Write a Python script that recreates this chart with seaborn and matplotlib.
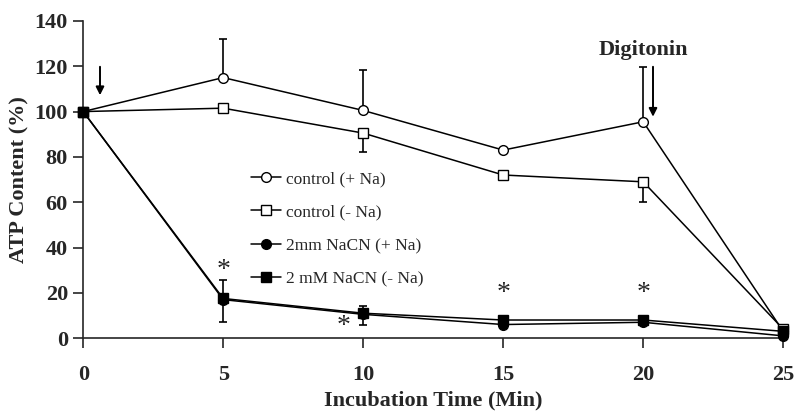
import numpy as np
import pandas as pd
import matplotlib
matplotlib.use("Agg")
import matplotlib.pyplot as plt
import seaborn as sns
from matplotlib.lines import Line2D

# ----------------------------------------------------------
# Data
# ----------------------------------------------------------
time = [0, 5, 10, 15, 20, 25]

control_na = [100, 115, 100.5, 83, 95.5, 3]
control_no_na = [100, 101.5, 90.5, 72, 69, 4]
nacn_na = [100, 17, 10.5, 6, 7, 1]
nacn_no_na = [100, 17.5, 11, 8, 8, 3]

# error bars (lower, upper) per point
control_na_err_lo = [0, 0, 0, 0, 0, 0]
control_na_err_hi = [0, 17, 18, 0, 24, 0]
control_no_na_err_lo = [0, 0, 8.5, 0, 9, 0]
control_no_na_err_hi = [0, 0, 0, 0, 0, 0]
nacn_no_na_err_lo = [0, 10.5, 5, 0, 0, 0]
nacn_no_na_err_hi = [0, 8, 3, 0, 0, 0]

labels = ["control (+ Na)", "control (- Na)", "2mm NaCN (+ Na)", "2 mM NaCN (- Na)"]

# asterisk positions
star_x = [5, 9.3, 15, 20]
star_y = [30, 5, 19.5, 19.5]

# ----------------------------------------------------------
# Plot
# ----------------------------------------------------------
sns.set_style("ticks")
plt.rcParams["font.family"] = ["Liberation Serif", "DejaVu Serif"]

fig = plt.figure(figsize=(8, 4.19), dpi=100)
ax = fig.add_axes([0.104, 0.193, 0.875, 0.757])

series = [
    (control_na, "o", "white", control_na_err_lo, control_na_err_hi),
    (control_no_na, "s", "white", control_no_na_err_lo, control_no_na_err_hi),
    (nacn_na, "o", "black", None, None),
    (nacn_no_na, "s", "black", nacn_no_na_err_lo, nacn_no_na_err_hi),
]

handles = []
for (vals, mk, fc, lo, hi), lab in zip(series, labels):
    df = pd.DataFrame({"time": time, "value": vals})
    if lo is not None:
        ax.errorbar(time, vals, yerr=[lo, hi], fmt="none", ecolor="black",
                    elinewidth=1.2, capsize=3, capthick=1.2, clip_on=False, zorder=2)
    sns.lineplot(data=df, x="time", y="value", ax=ax, color="black",
                 linewidth=1.1, marker=mk, markersize=7 if mk == "o" else 7.5,
                 markerfacecolor=fc, markeredgecolor="black",
                 markeredgewidth=1, clip_on=False, zorder=3)
    handles.append(Line2D([0], [0], color="black", linewidth=1.1, marker=mk,
                          markersize=7, markerfacecolor=fc,
                          markeredgecolor="black"))

for sx, sy in zip(star_x, star_y):
    ax.text(sx, sy, "*", ha="center", va="center", fontsize=20)

# arrows
ax.annotate("", xy=(0.6, 106), xytext=(0.6, 121),
            arrowprops=dict(arrowstyle="-|>", color="black", lw=1.4,
                            mutation_scale=12))
ax.annotate("", xy=(20.35, 96.5), xytext=(20.35, 121),
            arrowprops=dict(arrowstyle="-|>", color="black", lw=1.4,
                            mutation_scale=12))
ax.text(20, 127, "Digitonin", ha="center", va="center",
        fontsize=16, fontweight="bold")

ax.set_xlim(0, 25)
ax.set_ylim(0, 140)
ax.set_xticks([0, 5, 10, 15, 20, 25])
ax.set_yticks(range(0, 141, 20))
ax.tick_params(axis="x", direction="out", length=7, width=1.2, pad=12, labelsize=16)
ax.tick_params(axis="y", direction="out", length=7, width=1.2, pad=4, labelsize=16)
for t in ax.get_xticklabels() + ax.get_yticklabels():
    t.set_fontweight("bold")

ax.set_xlabel("Incubation Time (Min)", fontsize=16, fontweight="bold", labelpad=4)
ax.set_ylabel("ATP Content (%)", fontsize=16, fontweight="bold", labelpad=4)

sns.despine(ax=ax)
for sp in ax.spines.values():
    sp.set_linewidth(1.2)

ax.legend(handles, labels, loc="upper left", bbox_to_anchor=(0.218, 0.577),
          frameon=False, fontsize=12.5, labelspacing=1.0, handlelength=1.7,
          handletextpad=0.3)

plt.savefig("out.png", dpi=100)
